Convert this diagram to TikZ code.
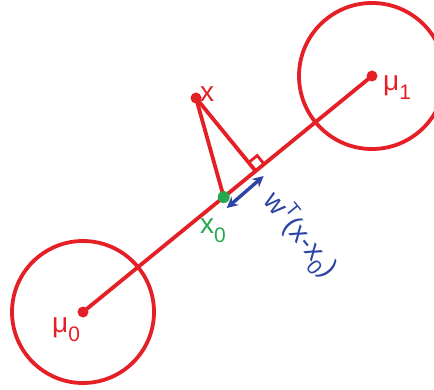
\documentclass[tikz,border=0pt]{standalone}
\usepackage{fontspec}
\setmainfont{Liberation Sans}
\usetikzlibrary{arrows.meta,calc}
\definecolor{myred}{RGB}{228,32,38}
\definecolor{myblue}{RGB}{45,68,165}
\definecolor{mygreen}{RGB}{38,168,78}
\newcommand{\lowsub}[1]{\raisebox{-0.32em}{\fontsize{21}{21}\selectfont #1}}
\newcommand{\highsup}[1]{\raisebox{0.42em}{\fontsize{19}{19}\selectfont #1}}
\tikzset{
  redline/.style={draw=myred, line width=3.8pt},
  ring/.style={circle, draw=myred, line width=3.8pt, inner sep=0pt},
  reddot/.style={circle, fill=myred, inner sep=0pt, minimum size=11pt},
  greendot/.style={circle, fill=mygreen, inner sep=0pt, minimum size=12pt},
  lbl/.style={inner sep=0pt, font=\fontsize{28}{30}\selectfont},
}
\begin{document}
\begin{tikzpicture}[x=1pt,y=-1pt]
\useasboundingbox (0,0) rectangle (434,390);
\coordinate (m0) at (83,312);
\coordinate (m1) at (372,76);
\coordinate (xp) at (196,98);
\coordinate (foot) at ($(m0)!(xp)!(m1)$);
\coordinate (x0) at ($(m0)!0.487!(m1)$);
% circles
\node[ring, minimum size=142pt] (c0) at (m0) {};
\node[ring, minimum size=146pt] (c1) at (m1) {};
% main line
\draw[redline] (m0) -- (m1);
% lines from x
\draw[redline] (xp) -- (x0);
\draw[redline] (xp) -- (foot);
% right angle marker
\coordinate (ra1) at ($(foot)!11pt!(m1)$);
\coordinate (ra2) at ($(foot)!11pt!(xp)$);
\draw[draw=myred, line width=2.8pt] (ra1) -- ($(ra1)+(ra2)-(foot)$) -- (ra2);
% dots
\node[reddot] (dm0) at (m0) {};
\node[reddot] (dm1) at (m1) {};
\node[reddot] (dx) at (xp) {};
\node[greendot] (dx0) at (x0) {};
% blue double arrow
\coordinate (a1) at ($(x0)+(3,11)$);
\coordinate (a2) at ($(foot)+(8,5)$);
\draw[myblue, line width=3.4pt, {Stealth[length=11pt,width=11pt]}-{Stealth[length=11pt,width=11pt]}] (a1) -- (a2);
% labels
\node[lbl, text=myred, anchor=base west] (lx) at (200,102) {x};
\node[lbl, text=myred, anchor=base west] (lm1) at (383,91) {μ\lowsub{1}};
\node[lbl, text=myred, anchor=base west] (lm0) at (52,333) {μ\lowsub{0}};
\node[lbl, text=mygreen, anchor=base west] (lx0) at (200,234) {x\lowsub{0}};
\node[lbl, text=myblue, rotate=-51] (lw) at (300,235) {w\highsup{T}(x-x\lowsub{0})};
\end{tikzpicture}
\end{document}
